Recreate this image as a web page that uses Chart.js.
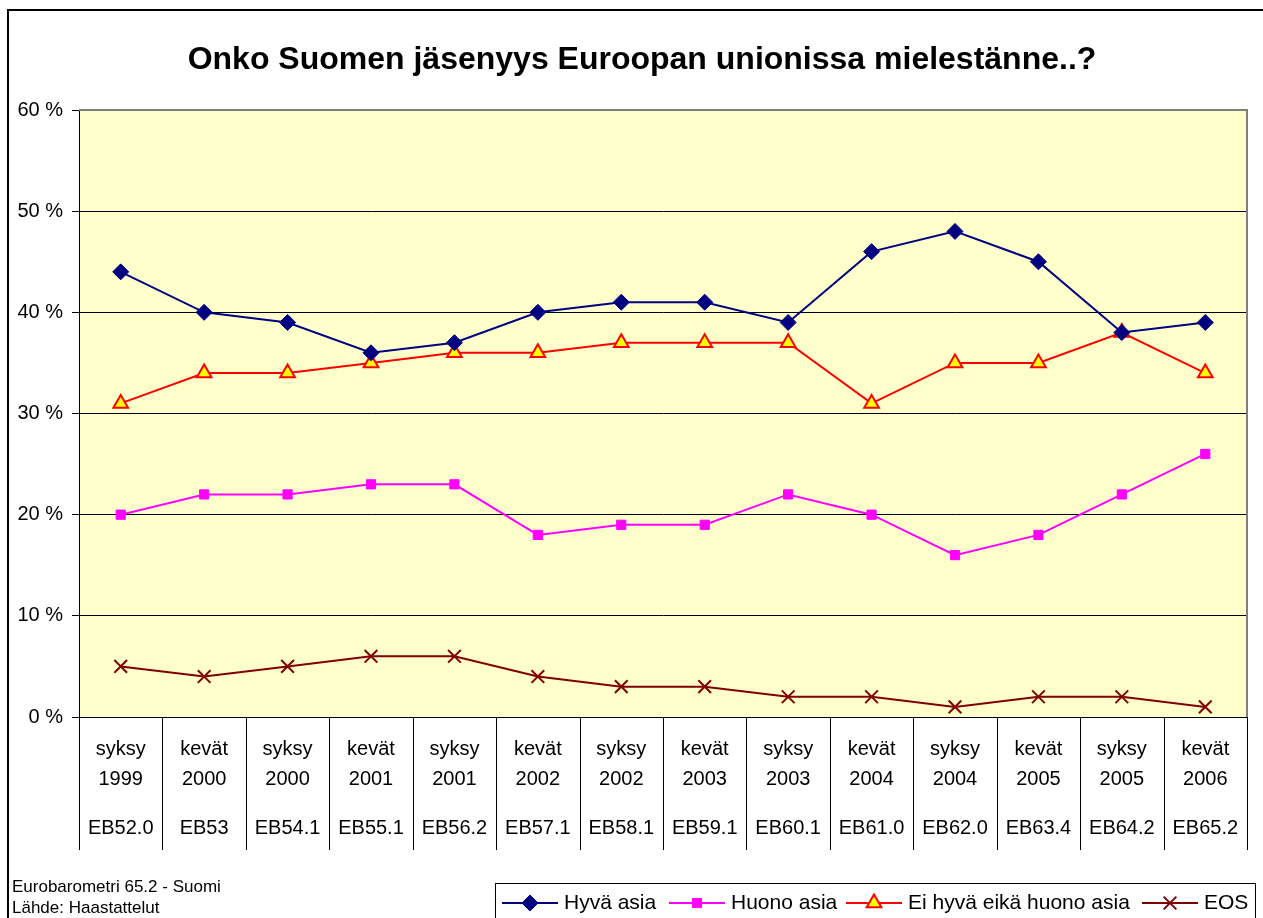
<!DOCTYPE html>
<html>
<head>
<meta charset="utf-8">
<script src="https://cdn.jsdelivr.net/npm/chart.js@4.4.0/dist/chart.umd.min.js"></script>
<style>
    html, body { margin: 0; padding: 0; background: #fff; }
    #wrap { width: 1263px; height: 918px; }
</style>
</head>
<body>
<div id="wrap"><canvas id="euChart" width="1263" height="918"></canvas></div>
<script>
// kysely-ajankohdat
var kausi = ['syksy', 'kevät', 'syksy', 'kevät', 'syksy', 'kevät', 'syksy', 'kevät', 'syksy', 'kevät', 'syksy', 'kevät', 'syksy', 'kevät'];
var vuosi = ['1999', '2000', '2000', '2001', '2001', '2002', '2002', '2003', '2003', '2004', '2004', '2005', '2005', '2006'];
var ebKoodi = ['EB52.0', 'EB53', 'EB54.1', 'EB55.1', 'EB56.2', 'EB57.1', 'EB58.1', 'EB59.1', 'EB60.1', 'EB61.0', 'EB62.0', 'EB63.4', 'EB64.2', 'EB65.2'];

// prosentit
var hyva = [44, 40, 39, 36, 37, 40, 41, 41, 39, 46, 48, 45, 38, 39];
var huono = [20, 22, 22, 23, 23, 18, 19, 19, 22, 20, 16, 18, 22, 26];
var eiHyvaEikaHuono = [31, 34, 34, 35, 36, 36, 37, 37, 37, 31, 35, 35, 38, 34];
var eos = [5, 4, 5, 6, 6, 4, 3, 3, 2, 2, 1, 2, 2, 1];

var yTicks = [0, 10, 20, 30, 40, 50, 60];

var otsikko = 'Onko Suomen jäsenyys Euroopan unionissa mielestänne..?';
var lahde = ['Eurobarometri 65.2 - Suomi', 'Lähde: Haastattelut'];

var fontti = '"Liberation Sans", Arial, sans-serif';

var labels = [];
for (let i = 0; i < kausi.length; i++) {
    labels.push([kausi[i], vuosi[i]]);
}

// tausta, erottimet, otsikko, selite
var piirrosPlugin = {
    id: 'piirros',
    beforeDraw: function (chart) {
        var ctx = chart.ctx;
        var a = chart.chartArea;
        ctx.save();
        ctx.fillStyle = '#FFFFCC';
        ctx.fillRect(a.left, a.top, a.right - a.left, a.bottom - a.top);
        ctx.restore();
    },
    afterDraw: function (chart) {
        var ctx = chart.ctx;
        var a = chart.chartArea;
        var x = chart.scales.x;
        ctx.save();

        // harmaa reunus ylä ja oikealla
        ctx.strokeStyle = '#808080';
        ctx.lineWidth = 2;
        ctx.beginPath();
        ctx.moveTo(a.left, a.top);
        ctx.lineTo(a.right, a.top);
        ctx.lineTo(a.right, a.bottom);
        ctx.stroke();

        // pystyviivat kategorioiden väliin
        ctx.strokeStyle = '#000';
        ctx.lineWidth = 1;
        var puoli = (x.getPixelForTick(1) - x.getPixelForTick(0)) / 2;
        for (let i = 0; i <= kausi.length; i++) {
            var px = i < kausi.length ? x.getPixelForTick(i) - puoli : x.getPixelForTick(i - 1) + puoli;
            px = Math.round(px) + 0.5;
            ctx.beginPath();
            ctx.moveTo(px, a.bottom);
            ctx.lineTo(px, 850);
            ctx.stroke();
        }

        // ulkokehys
        ctx.strokeStyle = '#000';
        ctx.lineWidth = 2;
        ctx.beginPath();
        ctx.moveTo(8, 918);
        ctx.lineTo(8, 10);
        ctx.lineTo(1263, 10);
        ctx.stroke();

        // otsikko
        ctx.fillStyle = '#000';
        ctx.font = 'bold 32px ' + fontti;
        ctx.textAlign = 'center';
        ctx.textBaseline = 'middle';
        ctx.fillText(otsikko, 642, 60);

        // lähde
        ctx.font = '17px ' + fontti;
        ctx.textAlign = 'left';
        ctx.fillText(lahde[0], 12, 887);
        ctx.fillText(lahde[1], 12, 908);

        // selite
        ctx.lineWidth = 1;
        ctx.strokeRect(495.5, 883.5, 760, 50);
        var alut = [502, 669, 846, 1142];
        ctx.font = '21px ' + fontti;
        chart.data.datasets.forEach(function (ds, i) {
            var lx = alut[i];
            var ly = 903;
            ctx.strokeStyle = ds.borderColor;
            ctx.lineWidth = 2;
            ctx.beginPath();
            ctx.moveTo(lx, ly);
            ctx.lineTo(lx + 56, ly);
            ctx.stroke();
            ctx.fillStyle = ds.pointBackgroundColor;
            ctx.strokeStyle = ds.pointBorderColor;
            ctx.lineWidth = ds.pointBorderWidth || 1;
            Chart.helpers.drawPoint(ctx, {
                pointStyle: ds.pointStyle,
                radius: ds.pointRadius,
                borderWidth: ds.pointBorderWidth || 1,
                rotation: 0
            }, lx + 28, ly);
            ctx.fillStyle = '#000';
            ctx.textAlign = 'left';
            ctx.textBaseline = 'middle';
            ctx.fillText(ds.label, lx + 62, ly);
        });

        ctx.restore();
    }
};

var ctx = document.getElementById('euChart').getContext('2d');

var euChart = new Chart(ctx, {
    type: 'line',
    data: {
        labels: labels,
        datasets: [
            {
                label: 'Hyvä asia',
                data: hyva,
                borderColor: '#000080',
                backgroundColor: '#000080',
                pointBackgroundColor: '#000080',
                pointBorderColor: '#000080',
                pointStyle: 'rectRot',
                pointRadius: 8,
                pointBorderWidth: 1,
                borderWidth: 2,
                tension: 0
            },
            {
                label: 'Huono asia',
                data: huono,
                borderColor: '#FF00FF',
                backgroundColor: '#FF00FF',
                pointBackgroundColor: '#FF00FF',
                pointBorderColor: '#FF00FF',
                pointStyle: 'rect',
                pointRadius: 6.5,
                pointBorderWidth: 1,
                borderWidth: 2,
                tension: 0
            },
            {
                label: 'Ei hyvä eikä huono asia',
                data: eiHyvaEikaHuono,
                borderColor: '#FF0000',
                backgroundColor: '#FFFF00',
                pointBackgroundColor: '#FFFF00',
                pointBorderColor: '#FF0000',
                pointStyle: 'triangle',
                pointRadius: 8.5,
                pointBorderWidth: 2,
                borderWidth: 2,
                tension: 0
            },
            {
                label: 'EOS',
                data: eos,
                borderColor: '#800000',
                backgroundColor: '#800000',
                pointBackgroundColor: '#800000',
                pointBorderColor: '#800000',
                pointStyle: 'crossRot',
                pointRadius: 9,
                pointBorderWidth: 2,
                borderWidth: 2,
                tension: 0
            }
        ]
    },
    options: {
        responsive: false,
        animation: false,
        layout: {
            padding: {
                left: 0,
                right: 16,
                top: 110,
                bottom: 0
            }
        },
        scales: {
            x: {
                type: 'category',
                offset: true,
                weight: 0,
                grid: { display: false },
                border: { display: true, color: '#000', width: 1 },
                ticks: {
                    color: '#000',
                    autoSkip: false,
                    maxRotation: 0,
                    padding: 9,
                    font: { family: fontti, size: 20, lineHeight: 1.5 }
                },
                afterFit: function (s) { s.height = 90; }
            },
            x2: {
                type: 'category',
                labels: ebKoodi,
                position: 'bottom',
                offset: true,
                weight: 1,
                grid: { display: false },
                border: { display: false },
                ticks: {
                    color: '#000',
                    autoSkip: false,
                    maxRotation: 0,
                    padding: 1,
                    font: { family: fontti, size: 20, lineHeight: 1.2 }
                },
                afterFit: function (s) { s.height = 111; }
            },
            y: {
                min: 0,
                max: 60,
                afterBuildTicks: function (s) {
                    s.ticks = yTicks.map(function (v) { return { value: v }; });
                },
                grid: { color: '#000', lineWidth: 1, tickLength: 7 },
                border: { color: '#000', width: 1 },
                ticks: {
                    color: '#000',
                    padding: 9,
                    font: { family: fontti, size: 20 },
                    callback: function (value) {
                        return value + ' %';
                    }
                },
                afterFit: function (s) { s.width = 79; }
            }
        },
        plugins: {
            legend: { display: false },
            title: { display: false },
            tooltip: { enabled: false }
        }
    },
    plugins: [piirrosPlugin]
});
</script>
</body>
</html>
